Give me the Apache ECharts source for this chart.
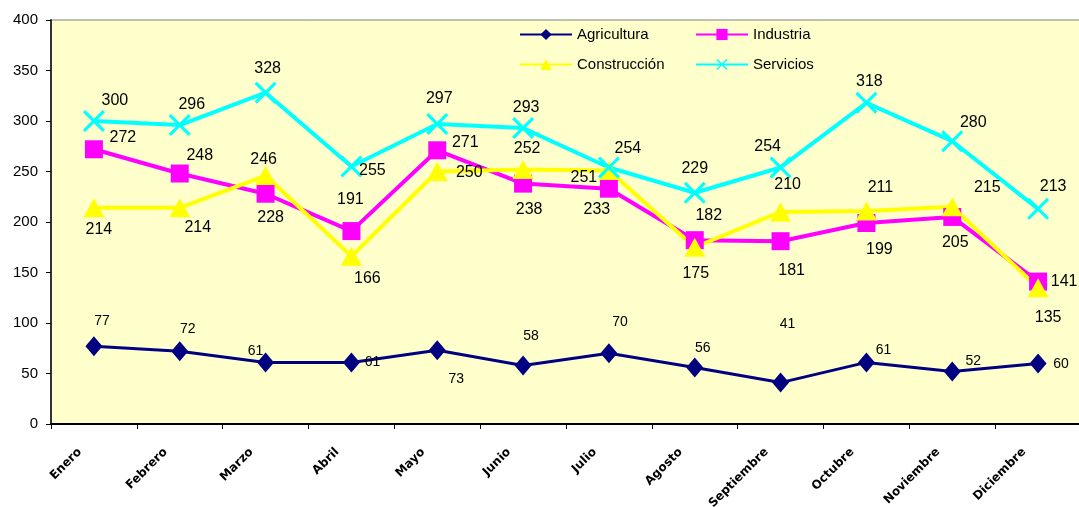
<!DOCTYPE html>
<html>
<head>
<meta charset="utf-8">
<script src="https://cdn.jsdelivr.net/npm/echarts@6/dist/echarts.min.js"></script>
<style>
html,body{margin:0;padding:0;background:#fff;}
#chart{width:1079px;height:507px;}
</style>
</head>
<body>
<div id="chart"></div>
<script>
//meses
var meses=["Enero","Febrero","Marzo","Abril","Mayo","Junio","Julio","Agosto","Septiembre","Octubre","Noviembre","Diciembre"];
//valores de cada serie
var agricultura=[77,72,61,61,73,58,70,56,41,61,52,60];
var industria=[272,248,228,191,271,238,233,182,181,199,205,141];
var construccion=[214,214,246,166,250,252,251,175,210,211,215,135];
var servicios=[300,296,328,255,297,293,254,229,254,318,280,213];
//marcas del eje y
var yTicks=[0,50,100,150,200,250,300,350,400];

//desplazamiento de las etiquetas (como en el original, colocadas a mano)
var offAgri=[[8,-25],[8,-22],[-10,-11],[21,0],[19,29],[8,-29],[11,-31],[8,-19],[7,-58],[17,-12],[21,-10],[23,1]];
var offInd=[[29,-12],[20,-18],[5,24],[-1,-31],[28,-8],[6,26],[-12,21],[14,-25],[11,29],[13,27],[3,26],[26,0]];
var offCon=[[5,22],[18,20],[-2,-16],[16,22],[32,1],[4,-21],[-25,7],[1,26],[7,-27],[14,-23],[35,-19],[10,30]];
var offSer=[[21,-20],[12,-20],[2,-24],[21,4],[2,-25],[3,-20],[19,-19],[0,-24],[-13,-21],[3,-21],[21,-19],[15,-22]];

var fuente='Liberation Sans';

//juntar valor y desplazamiento
function puntos(vals,offs){
	var r=[];
	for(var i=0;i<vals.length;i++){
		r.push({value:vals[i],label:{offset:offs[i]}});
	}
	return r;
}

var cruz='path://M0,1L1,0L5,4L9,0L10,1L6,5L10,9L9,10L5,6L1,10L0,9L4,5Z';

function serie(nombre,vals,offs,color,simbolo,tam,ancho,tamFuente){
	return {
		name:nombre,
		type:'line',
		data:puntos(vals,offs),
		symbol:simbolo,
		symbolSize:tam,
		showAllSymbol:true,
		lineStyle:{color:color,width:ancho},
		itemStyle:{color:color,borderWidth:0},
		emphasis:{disabled:true},
		label:{
			show:true,
			position:'inside',
			color:'#000',
			fontFamily:fuente,
			fontSize:tamFuente
		}
	};
}

var myChart=echarts.init(document.getElementById('chart'),null,{renderer:'canvas'});
var option={
	backgroundColor:'#fff',
	animation:false,
	grid:{
		left:51,top:20,width:1030,height:404,
		outerBoundsMode:'none',
		containLabel:false,
		show:true,
		backgroundColor:'#FFFFCC',
		borderColor:'#808080',
		borderWidth:1
	},
	legend:[{
		data:['Agricultura','Construcción'],
		orient:'vertical',
		left:514,top:22,
		itemWidth:52,itemHeight:14,itemGap:15,
		textStyle:{fontFamily:fuente,fontSize:15,color:'#000'}
	},{
		data:['Industria','Servicios'],
		orient:'vertical',
		left:690,top:22,
		itemWidth:52,itemHeight:14,itemGap:15,
		textStyle:{fontFamily:fuente,fontSize:15,color:'#000'}
	}],
	xAxis:{
		type:'category',
		data:meses,
		boundaryGap:true,
		axisLine:{lineStyle:{color:'#000',width:2}},
		axisTick:{show:true,length:5,lineStyle:{color:'#000'}},
		axisLabel:{
			rotate:45,
			fontFamily:'DejaVu Sans',
			fontSize:12,
			fontWeight:'bold',
			color:'#000',
			margin:12,
			padding:[0,20,0,0],
			interval:0
		},
		splitLine:{show:false}
	},
	yAxis:{
		type:'value',
		min:yTicks[0],
		max:yTicks[yTicks.length-1],
		interval:50,
		axisLine:{show:true,lineStyle:{color:'#333',width:2}},
		axisTick:{show:true,length:5,lineStyle:{color:'#000'}},
		axisLabel:{fontFamily:fuente,fontSize:15,color:'#000',margin:13},
		splitLine:{show:false}
	},
	series:[
		serie('Agricultura',agricultura,offAgri,'#000080','diamond',[17,20],3,14),
		serie('Industria',industria,offInd,'#FF00FF','rect',18,4,16),
		serie('Construcción',construccion,offCon,'#FFFF00','triangle',[21,19],4,16),
		serie('Servicios',servicios,offSer,'#00FFFF',cruz,22,4,16)
	]
};
myChart.setOption(option);
</script>
</body>
</html>
